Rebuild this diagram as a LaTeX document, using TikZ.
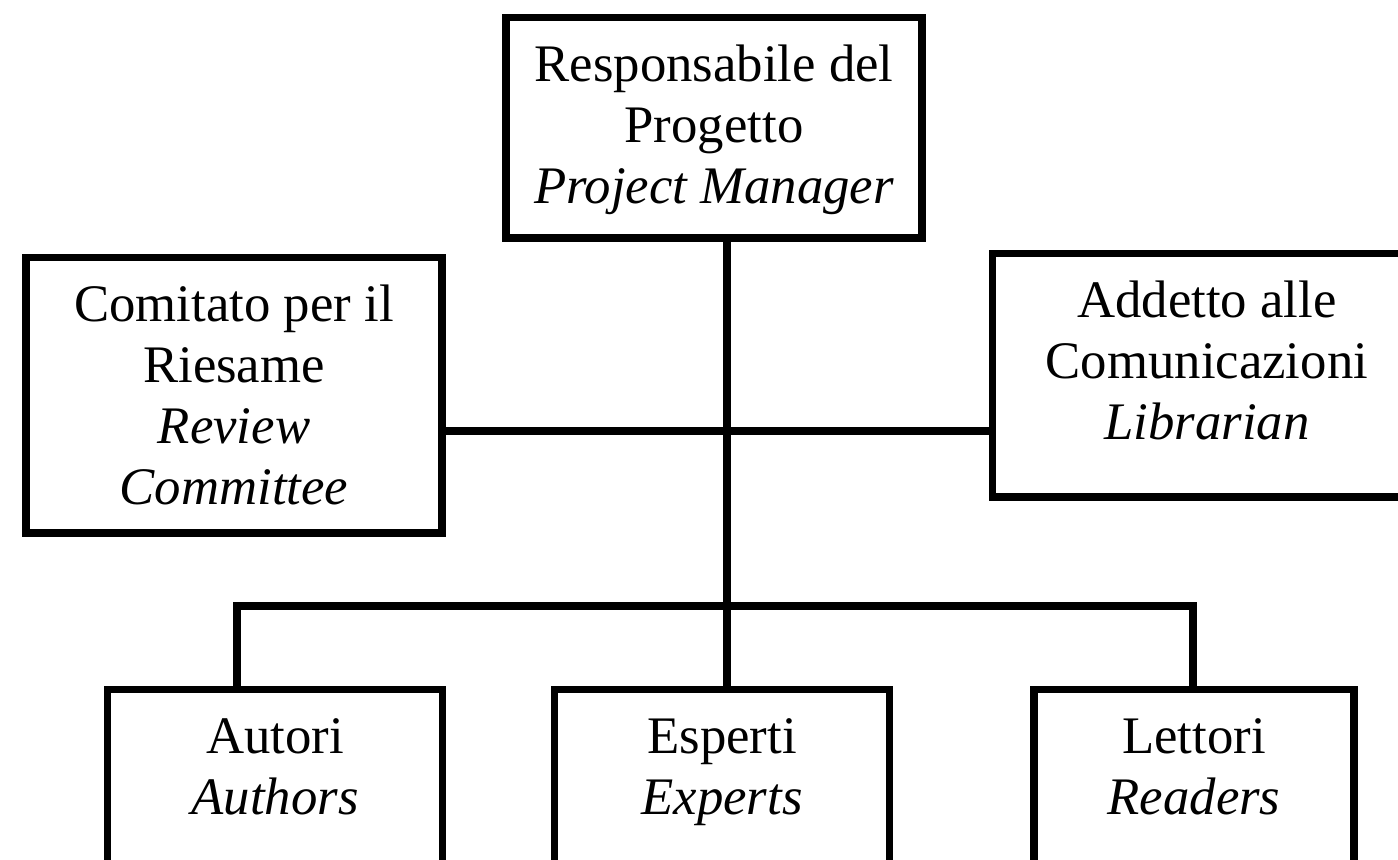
\documentclass[tikz,border=0pt]{standalone}
\usepackage{fontspec}
\setmainfont{Liberation Serif}
\usetikzlibrary{positioning}

% box of given width and height, text hanging from the top
\newcommand{\roletext}[3]{\parbox[c][#2][t]{#1}{\centering\rule{0pt}{0.64cm}#3}}

\tikzset{
    role/.style={draw, line width=2.1pt, inner sep=0pt,
        font=\fontsize{15}{17.3}\selectfont},
    link/.style={line width=2.1pt}
}

\begin{document}
\begin{tikzpicture}[x=0.01cm, y=-0.01cm]
    \clip (0,0) rectangle (1398,859);
    \useasboundingbox (0,0) rectangle (1398,859);

    % Top of the chart
    \node[role, anchor=north] (manager) at (714,14)
        {\roletext{4.16cm}{2.20cm}{Responsabile del\\Progetto\\\textit{Project Manager}}};

    % Staff boxes
    \node[role, anchor=north] (review) at (234,254)
        {\roletext{4.16cm}{2.75cm}{Comitato per il\\Riesame\\\textit{Review}\\\textit{Committee}}};
    \node[role, anchor=north west] (librarian) at (989,250)
        {\roletext{4.28cm}{2.43cm}{Addetto alle\\Comunicazioni\\\textit{Librarian}}};

    % Bottom row
    \node[role, anchor=north] (authors) at (275,686)
        {\roletext{3.35cm}{2.0cm}{Autori\\\textit{Authors}}};
    \node[role, anchor=north] (experts) at (722,686)
        {\roletext{3.35cm}{2.0cm}{Esperti\\\textit{Experts}}};
    \node[role, anchor=north] (readers) at (1194,686)
        {\roletext{3.20cm}{2.0cm}{Lettori\\\textit{Readers}}};

    % Connectors
    \coordinate (hub) at (727,431);
    \coordinate (busL) at (237,606);
    \coordinate (busR) at (1193,606);
    \draw[link] (manager.south -| hub) -- (experts.north -| hub);
    \draw[link] (review.east |- hub) -- (librarian.west |- hub);
    \draw[link] (authors.north -| busL) -- (busL) -- (busR) -- (readers.north -| busR);
\end{tikzpicture}
\end{document}
